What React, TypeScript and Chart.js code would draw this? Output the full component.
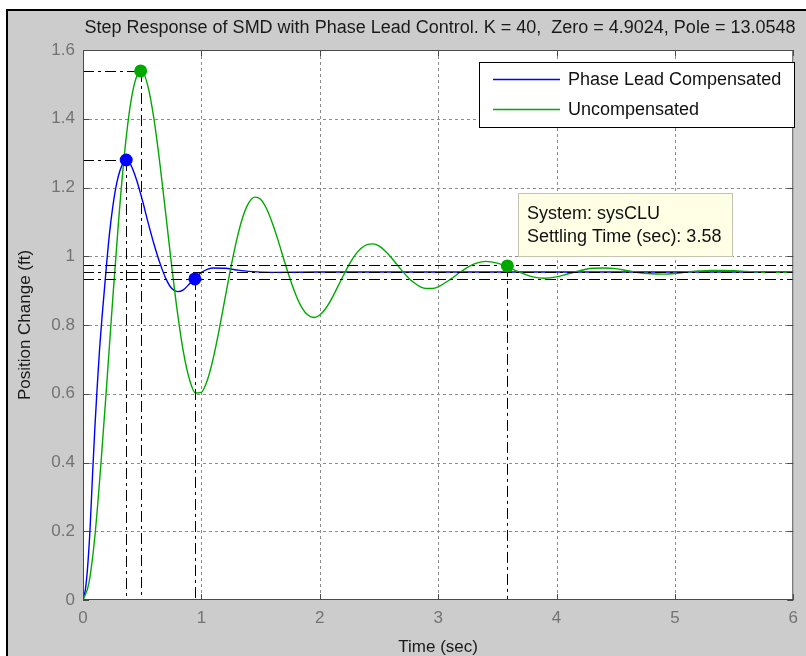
import { useEffect, useRef } from 'react';
import { Chart, registerables } from 'chart.js';

Chart.register(...registerables);

const chartTitle = 'Step Response of SMD with Phase Lead Control. K = 40,  Zero = 4.9024, Pole = 13.0548';
const xAxisTitle = 'Time (sec)';
const yAxisTitle = 'Position Change (ft)';
const seriesNames = ['Phase Lead Compensated', 'Uncompensated'];
const tipLines = ['System: sysCLU', 'Settling Time (sec): 3.58'];

const timeTicks = [0, 1, 2, 3, 4, 5, 6];
const valueTicks = [0, 0.2, 0.4, 0.6, 0.8, 1, 1.2, 1.4, 1.6];

const blueTimes = [0, 0.02, 0.04, 0.06, 0.08, 0.1, 0.12, 0.14, 0.16, 0.18, 0.2, 0.225, 0.25, 0.275, 0.3, 0.33, 0.36, 0.4, 0.45, 0.5, 0.55, 0.6, 0.65, 0.7, 0.75, 0.8, 0.85, 0.9, 0.95, 1.0, 1.05, 1.1, 1.2, 1.3, 1.4, 1.6, 2.0, 3.0, 4.0, 5.0, 6.0];
const blueValues = [0, 0.03, 0.1, 0.21, 0.36, 0.5, 0.62, 0.73, 0.82, 0.9, 0.98, 1.07, 1.14, 1.195, 1.235, 1.265, 1.28, 1.268, 1.225, 1.165, 1.098, 1.035, 0.98, 0.935, 0.906, 0.897, 0.903, 0.92, 0.938, 0.953, 0.962, 0.966, 0.965, 0.96, 0.956, 0.953, 0.954, 0.954, 0.954, 0.954, 0.954];

const greenTimes = [0, 0.05, 0.1, 0.15, 0.2, 0.25, 0.3, 0.35, 0.4, 0.45, 0.5, 0.55, 0.6, 0.65, 0.7, 0.75, 0.8, 0.85, 0.9, 0.95, 1.0, 1.05, 1.1, 1.15, 1.2, 1.25, 1.3, 1.35, 1.4, 1.45, 1.5, 1.55, 1.6, 1.65, 1.7, 1.75, 1.8, 1.85, 1.9, 1.95, 2.0, 2.05, 2.1, 2.15, 2.2, 2.25, 2.3, 2.35, 2.4, 2.45, 2.5, 2.55, 2.6, 2.65, 2.7, 2.75, 2.8, 2.85, 2.9, 2.95, 3.0, 3.1, 3.2, 3.3, 3.4, 3.5, 3.6, 3.7, 3.8, 3.9, 4.0, 4.1, 4.2, 4.3, 4.4, 4.5, 4.6, 4.7, 4.8, 4.9, 5.0, 5.1, 5.2, 5.3, 5.4, 5.5, 5.6, 5.7, 5.8, 5.9, 6.0];
const greenValues = [0, 0.049, 0.184, 0.39, 0.625, 0.87, 1.1, 1.297, 1.44, 1.52, 1.537, 1.492, 1.398, 1.268, 1.12, 0.969, 0.831, 0.718, 0.641, 0.602, 0.604, 0.639, 0.703, 0.786, 0.878, 0.969, 1.05, 1.114, 1.155, 1.172, 1.166, 1.139, 1.096, 1.044, 0.987, 0.933, 0.886, 0.85, 0.829, 0.822, 0.829, 0.848, 0.876, 0.91, 0.944, 0.977, 1.004, 1.023, 1.034, 1.036, 1.03, 1.016, 0.998, 0.977, 0.956, 0.937, 0.922, 0.911, 0.906, 0.906, 0.911, 0.932, 0.957, 0.977, 0.985, 0.98, 0.967, 0.952, 0.94, 0.936, 0.94, 0.949, 0.958, 0.965, 0.966, 0.964, 0.958, 0.952, 0.949, 0.948, 0.95, 0.954, 0.957, 0.959, 0.959, 0.958, 0.956, 0.954, 0.953, 0.953, 0.954];

// characteristic points: [blue, green]
const peakTimes = [0.365, 0.487];
const peakValues = [1.28, 1.539];
const settleTimes = [0.945, 3.585];
const settleValues = [0.934, 0.972];
const bandValues = [0.975, 0.954, 0.934];

const BLUE = '#0000ff';
const GREEN = '#00a800';
const FONT = '"Liberation Sans", Arial, Helvetica, sans-serif';

const toXY = (ts: number[], vs: number[]) => ts.map((t, i) => ({ x: t, y: vs[i] }));

const decorPlugin = {
  id: 'decor',
  beforeDraw(chart: any) {
    const { ctx, width, height, chartArea: a } = chart;
    const xs = chart.scales.x;
    const ys = chart.scales.y;
    ctx.save();
    ctx.fillStyle = '#ffffff';
    ctx.fillRect(0, 0, width, height);
    ctx.fillStyle = '#000000';
    ctx.fillRect(6, 9, width - 6, height - 9);
    ctx.fillStyle = '#cccccc';
    ctx.fillRect(8, 11, width - 8, height - 11);
    ctx.fillStyle = '#ffffff';
    ctx.fillRect(a.left, a.top, a.right - a.left, a.bottom - a.top);

    // grid
    ctx.strokeStyle = '#8c8c8c';
    ctx.lineWidth = 1;
    ctx.setLineDash([3, 3]);
    for (const t of timeTicks) {
      const px = Math.round(xs.getPixelForValue(t)) + 0.5;
      if (px <= a.left + 1 || px >= a.right - 1) continue;
      ctx.beginPath();
      ctx.moveTo(px, a.top);
      ctx.lineTo(px, a.bottom);
      ctx.stroke();
    }
    for (const v of valueTicks) {
      const py = Math.round(ys.getPixelForValue(v)) + 0.5;
      if (py <= a.top + 1 || py >= a.bottom - 1) continue;
      ctx.beginPath();
      ctx.moveTo(a.left, py);
      ctx.lineTo(a.right, py);
      ctx.stroke();
    }
    ctx.setLineDash([]);

    // texts
    ctx.fillStyle = '#1a1a1a';
    ctx.font = `18px ${FONT}`;
    ctx.textAlign = 'center';
    ctx.textBaseline = 'alphabetic';
    ctx.fillText(chartTitle, 440, 33);
    ctx.font = `17px ${FONT}`;
    ctx.fillText(xAxisTitle, (a.left + a.right) / 2, 652);
    ctx.save();
    ctx.translate(30, (a.top + a.bottom) / 2);
    ctx.rotate(-Math.PI / 2);
    ctx.fillText(yAxisTitle, 0, 0);
    ctx.restore();
    ctx.restore();
  },
  afterDatasetDraw(chart: any, args: any) {
    if (args.meta.label !== seriesNames[1]) return;
    const { ctx, chartArea: a } = chart;
    const xs = chart.scales.x;
    const ys = chart.scales.y;
    ctx.save();
    ctx.beginPath();
    ctx.rect(a.left, a.top, a.right - a.left, a.bottom - a.top);
    ctx.clip();
    ctx.strokeStyle = '#000000';
    ctx.lineWidth = 1;
    ctx.setLineDash([11, 4, 3, 4]);
    const hline = (v: number, x0: number, x1: number) => {
      const py = Math.round(ys.getPixelForValue(v)) + 0.5;
      ctx.beginPath();
      ctx.moveTo(xs.getPixelForValue(x0), py);
      ctx.lineTo(xs.getPixelForValue(x1), py);
      ctx.stroke();
    };
    const vline = (t: number, v: number) => {
      const px = Math.round(xs.getPixelForValue(t)) + 0.5;
      ctx.beginPath();
      ctx.moveTo(px, ys.getPixelForValue(v));
      ctx.lineTo(px, a.bottom);
      ctx.stroke();
    };
    for (const v of bandValues) hline(v, 0, 6);
    for (let i = 0; i < peakTimes.length; i++) {
      hline(peakValues[i], 0, peakTimes[i]);
      vline(peakTimes[i], peakValues[i]);
      vline(settleTimes[i], settleValues[i]);
    }
    ctx.restore();
  },
  afterDraw(chart: any) {
    const { ctx, chartArea: a } = chart;
    const xs = chart.scales.x;
    const ys = chart.scales.y;
    ctx.save();
    // box + inner ticks
    ctx.strokeStyle = '#4a4a4a';
    ctx.lineWidth = 1;
    ctx.strokeRect(a.left + 0.5, a.top + 0.5, a.right - a.left - 1, a.bottom - a.top - 1);
    ctx.beginPath();
    for (const t of timeTicks) {
      const px = Math.round(xs.getPixelForValue(t)) + 0.5;
      ctx.moveTo(px, a.bottom);
      ctx.lineTo(px, a.bottom - 6);
      ctx.moveTo(px, a.top);
      ctx.lineTo(px, a.top + 6);
    }
    for (const v of valueTicks) {
      const py = Math.round(ys.getPixelForValue(v)) + 0.5;
      ctx.moveTo(a.left, py);
      ctx.lineTo(a.left + 6, py);
      ctx.moveTo(a.right, py);
      ctx.lineTo(a.right - 6, py);
    }
    ctx.stroke();

    // legend
    const lx = 479, ly = 62, lw = 315, lh = 65;
    ctx.fillStyle = '#ffffff';
    ctx.fillRect(lx, ly, lw, lh);
    ctx.strokeStyle = '#000000';
    ctx.strokeRect(lx + 0.5, ly + 0.5, lw, lh);
    const colors = [BLUE, GREEN];
    ctx.font = `18px ${FONT}`;
    ctx.textAlign = 'left';
    ctx.textBaseline = 'middle';
    seriesNames.forEach((name, i) => {
      const y = 79.5 + i * 30;
      ctx.strokeStyle = colors[i];
      ctx.lineWidth = 1.5;
      ctx.beginPath();
      ctx.moveTo(493, y);
      ctx.lineTo(560, y);
      ctx.stroke();
      ctx.fillStyle = '#111111';
      ctx.fillText(name, 568, y + 1);
    });

    // data tip
    ctx.fillStyle = '#ffffe6';
    ctx.fillRect(518, 193, 215, 64);
    ctx.strokeStyle = '#c4c4b0';
    ctx.lineWidth = 1;
    ctx.strokeRect(518.5, 193.5, 214, 63);
    ctx.fillStyle = '#111111';
    ctx.font = `18px ${FONT}`;
    tipLines.forEach((line, i) => {
      ctx.fillText(line, 527, 214 + i * 23.5);
    });
    ctx.restore();
  },
};

export default function App() {
  const canvasRef = useRef<HTMLCanvasElement | null>(null);

  useEffect(() => {
    const canvas = canvasRef.current;
    if (!canvas) return;
    const chart = new Chart(canvas, {
      type: 'line',
      data: {
        datasets: [
          {
            label: 'blue-markers',
            data: [
              { x: peakTimes[0], y: peakValues[0] },
              { x: settleTimes[0], y: settleValues[0] },
            ],
            showLine: false,
            pointRadius: 6.5,
            pointBackgroundColor: BLUE,
            pointBorderWidth: 0,
            order: 0,
          },
          {
            label: 'green-markers',
            data: [
              { x: peakTimes[1], y: peakValues[1] },
              { x: settleTimes[1], y: settleValues[1] },
            ],
            showLine: false,
            pointRadius: 6.5,
            pointBackgroundColor: GREEN,
            pointBorderWidth: 0,
            order: 0,
          },
          {
            label: seriesNames[1],
            data: toXY(greenTimes, greenValues),
            borderColor: GREEN,
            borderWidth: 1.4,
            pointRadius: 0,
            cubicInterpolationMode: 'monotone',
            order: 1,
          },
          {
            label: seriesNames[0],
            data: toXY(blueTimes, blueValues),
            borderColor: BLUE,
            borderWidth: 1.4,
            pointRadius: 0,
            cubicInterpolationMode: 'monotone',
            order: 2,
          },
        ],
      },
      options: {
        responsive: false,
        animation: false,
        layout: { padding: { top: 50, left: 0, right: 5, bottom: 0 } },
        plugins: {
          legend: { display: false },
          tooltip: { enabled: false },
          title: { display: false },
        },
        scales: {
          x: {
            type: 'linear',
            min: 0,
            max: 6,
            afterBuildTicks: (scale: any) => {
              scale.ticks = timeTicks.map((v) => ({ value: v }));
            },
            afterFit: (scale: any) => {
              scale.height = 56;
            },
            grid: { display: false, drawTicks: false },
            border: { display: false },
            ticks: {
              padding: 8,
              maxRotation: 0,
              autoSkip: false,
              color: '#737373',
              font: { family: FONT, size: 17 },
              callback: (v: any) => String(v),
            },
          },
          y: {
            type: 'linear',
            min: 0,
            max: 1.6,
            afterBuildTicks: (scale: any) => {
              scale.ticks = valueTicks.map((v) => ({ value: v }));
            },
            afterFit: (scale: any) => {
              scale.width = 83;
            },
            grid: { display: false, drawTicks: false },
            border: { display: false },
            ticks: {
              padding: 8,
              autoSkip: false,
              color: '#737373',
              font: { family: FONT, size: 17 },
              callback: (v: any) => String(Math.round(Number(v) * 10) / 10),
            },
          },
        },
      },
      plugins: [decorPlugin],
    } as any);
    return () => chart.destroy();
  }, []);

  return (
    <div style={{ position: 'fixed', left: 0, top: 0, width: 806, height: 656 }}>
      <canvas ref={canvasRef} width={806} height={656} style={{ display: 'block' }} />
    </div>
  );
}
